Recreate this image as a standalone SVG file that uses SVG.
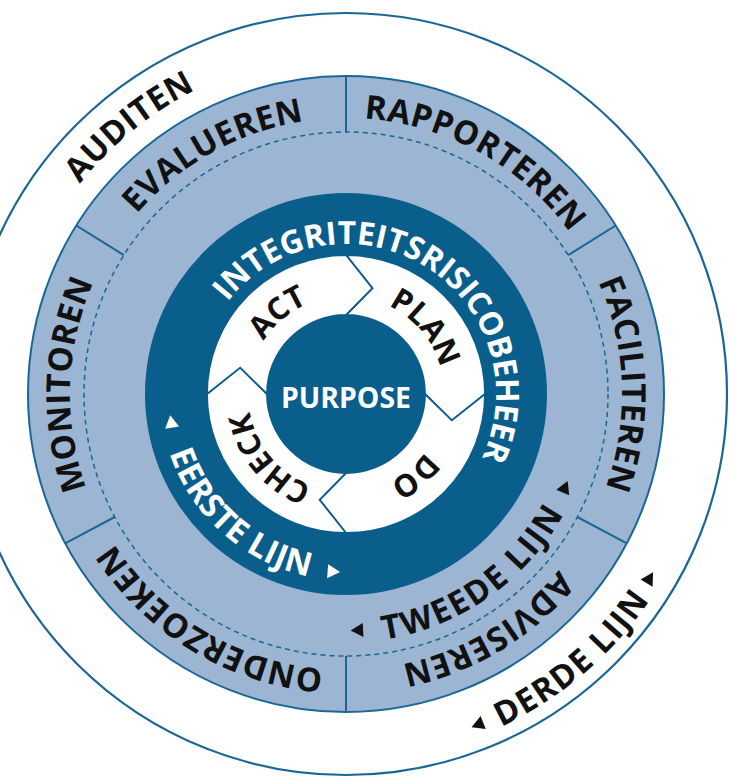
<svg xmlns="http://www.w3.org/2000/svg" width="729" height="778" viewBox="0 0 729 778">
  <style>
    .lbl { font-family: "Open Sans", "DejaVu Sans", sans-serif; font-weight: 700; font-size: 33px; letter-spacing: 0.4px; }
    .inner { font-size: 32px; letter-spacing: 0; }
    .pdca { font-size: 31px; letter-spacing: 0; }
    .wide { letter-spacing: 2px; }
    .mid { letter-spacing: 1.5px; }
    .center { font-size: 28px; letter-spacing: 0; }
    .dark { fill: #111; }
    .light { fill: #fff; }
    .seg { fill: #fff; stroke: #0a5e8c; stroke-width: 1.8; stroke-linejoin: miter; }
    .div { stroke: #1a6796; stroke-width: 2; fill: none; }
  </style>
  <defs>
    <!-- baseline arcs, all centred on (346,394) -->
    <path id="arcIntegriteit" d="M206.4,339 A150,150 0 1 1 458.3,493.4"/>
    <path id="arcEerste" d="M172.9,325.8 A186,186 0 0 0 434.8,557.5"/>
    <path id="arcTweede" d="M247.9,622.4 A249,249 0 0 0 594.3,378.6"/>
    <path id="arcDerde" d="M285.4,756 A367,367 0 0 0 713,390.8"/>
    <path id="arcAuditen" d="M13.2,329.3 A339,339 0 0 1 351.9,55.05"/>
    <path id="arcEvalueren" d="M80.7,317.9 A276,276 0 0 1 422.1,128.7"/>
    <path id="arcRapporteren" d="M269.9,128.7 A276,276 0 0 1 611.3,317.9"/>
    <path id="arcFaciliteren" d="M534.2,192.1 A276,276 0 0 1 547.9,582.2"/>
    <path id="arcAdviseren" d="M613.8,460.8 A276,276 0 0 1 279.2,661.8"/>
    <path id="arcOnderzoeken" d="M412.8,661.8 A276,276 0 0 1 78.2,460.8"/>
    <path id="arcMonitoren" d="M144.1,582.2 A276,276 0 0 1 157.8,192.1"/>
    <path id="arcPlan" d="M329.2,298.5 A96,96 0 0 1 437.2,427.2"/>
    <path id="arcDo" d="M441.5,377.2 A96,96 0 0 1 312.8,485.2"/>
    <path id="arcCheck" d="M362.8,489.5 A96,96 0 0 1 254.8,360.8"/>
    <path id="arcAct" d="M250.5,410.8 A96,96 0 0 1 379.2,302.8"/>
    <!-- small direction triangle, pointing along +x -->
    <path id="tri" d="M6.5,0 L-6,-7 L-6,7 Z"/>
  </defs>

  <!-- outer ring: third line -->
  <g id="ring-derde-lijn">
    <circle cx="346" cy="394" r="381" fill="#fff" stroke="#1a6796" stroke-width="2.2"/>
    <text class="lbl dark"><textPath href="#arcAuditen" startOffset="50%" text-anchor="middle">AUDITEN</textPath></text>
    <text class="lbl mid dark"><textPath href="#arcDerde" startOffset="50%" text-anchor="middle">DERDE LIJN</textPath></text>
    <use href="#tri" fill="#111" transform="translate(477.6,724.8) rotate(158.3)"/>
    <use href="#tri" fill="#111" transform="translate(649.7,577.9) rotate(301.2)"/>
  </g>

  <!-- middle ring: second line -->
  <g id="ring-tweede-lijn">
    <circle cx="346" cy="394" r="318" fill="#9bb5d3" stroke="#1a6796" stroke-width="2"/>
    <circle cx="346" cy="394" r="262" fill="none" stroke="#1a6796" stroke-width="1.5" stroke-dasharray="5 4"/>
  </g>

  <g id="connectors">
    <line class="div" x1="346" y1="132" x2="346" y2="76"/>
    <line class="div" x1="568.2" y1="255.2" x2="615.7" y2="225.5"/>
    <line class="div" x1="577.3" y1="517" x2="626.8" y2="543.3"/>
    <line class="div" x1="346" y1="656" x2="346" y2="712"/>
    <line class="div" x1="114.7" y1="517" x2="65.2" y2="543.3"/>
    <line class="div" x1="123.8" y1="255.2" x2="76.3" y2="225.5"/>
  </g>

  <g id="seg-evalueren"><text class="lbl dark"><textPath href="#arcEvalueren" startOffset="50%" text-anchor="middle">EVALUEREN</textPath></text></g>
  <g id="seg-rapporteren"><text class="lbl dark"><textPath href="#arcRapporteren" startOffset="50%" text-anchor="middle">RAPPORTEREN</textPath></text></g>
  <g id="seg-faciliteren"><text class="lbl dark"><textPath href="#arcFaciliteren" startOffset="50%" text-anchor="middle">FACILITEREN</textPath></text></g>
  <g id="seg-adviseren"><text class="lbl dark"><textPath href="#arcAdviseren" startOffset="50%" text-anchor="middle">ADVISEREN</textPath></text></g>
  <g id="seg-onderzoeken"><text class="lbl dark"><textPath href="#arcOnderzoeken" startOffset="50%" text-anchor="middle">ONDERZOEKEN</textPath></text></g>
  <g id="seg-monitoren"><text class="lbl dark"><textPath href="#arcMonitoren" startOffset="50%" text-anchor="middle">MONITOREN</textPath></text></g>
  <g id="tweede-lijn">
    <text class="lbl wide dark"><textPath href="#arcTweede" startOffset="50%" text-anchor="middle">TWEEDE LIJN</textPath></text>
    <use href="#tri" fill="#111" transform="translate(357.1,630.2) rotate(177.3)"/>
    <use href="#tri" fill="#111" transform="translate(565.1,487) rotate(293)"/>
  </g>

  <!-- inner ring: first line -->
  <g id="ring-eerste-lijn">
    <circle cx="346" cy="394" r="201" fill="#0a5e8c"/>
    <text class="lbl inner light"><textPath href="#arcIntegriteit" startOffset="50%" text-anchor="middle">INTEGRITEITSRISICOBEHEER</textPath></text>
    <text class="lbl light"><textPath href="#arcEerste" startOffset="50%" text-anchor="middle">EERSTE LIJN</textPath></text>
    <use href="#tri" fill="#fff" transform="translate(171.2,421.7) rotate(261)"/>
    <use href="#tri" fill="#fff" transform="translate(333.6,571.6) rotate(4)"/>
  </g>

  <!-- PDCA cycle -->
  <g id="pdca-plan">
    <path class="seg" d="M346,255 A139,139 0 0 1 485,394 L451.8,420.4 L425,394 A79,79 0 0 0 346,315 L372.4,288.2 Z"/>
    <text class="lbl pdca dark"><textPath href="#arcPlan" startOffset="50%" text-anchor="middle">PLAN</textPath></text>
  </g>
  <g id="pdca-do">
    <path class="seg" d="M485,394 A139,139 0 0 1 346,533 L319.6,499.8 L346,473 A79,79 0 0 0 425,394 L451.8,420.4 Z"/>
    <text class="lbl pdca dark"><textPath href="#arcDo" startOffset="50%" text-anchor="middle">DO</textPath></text>
  </g>
  <g id="pdca-check">
    <path class="seg" d="M346,533 A139,139 0 0 1 207,394 L240.2,367.6 L267,394 A79,79 0 0 0 346,473 L319.6,499.8 Z"/>
    <text class="lbl pdca dark"><textPath href="#arcCheck" startOffset="50%" text-anchor="middle">CHECK</textPath></text>
  </g>
  <g id="pdca-act">
    <path class="seg" d="M207,394 A139,139 0 0 1 346,255 L372.4,288.2 L346,315 A79,79 0 0 0 267,394 L240.2,367.6 Z"/>
    <text class="lbl pdca dark"><textPath href="#arcAct" startOffset="50%" text-anchor="middle">ACT</textPath></text>
  </g>

  <g id="purpose">
    <circle cx="346" cy="394" r="79" fill="#0a5e8c"/>
    <text class="lbl center light" x="346" y="408" text-anchor="middle" textLength="130" lengthAdjust="spacingAndGlyphs">PURPOSE</text>
  </g>
</svg>
